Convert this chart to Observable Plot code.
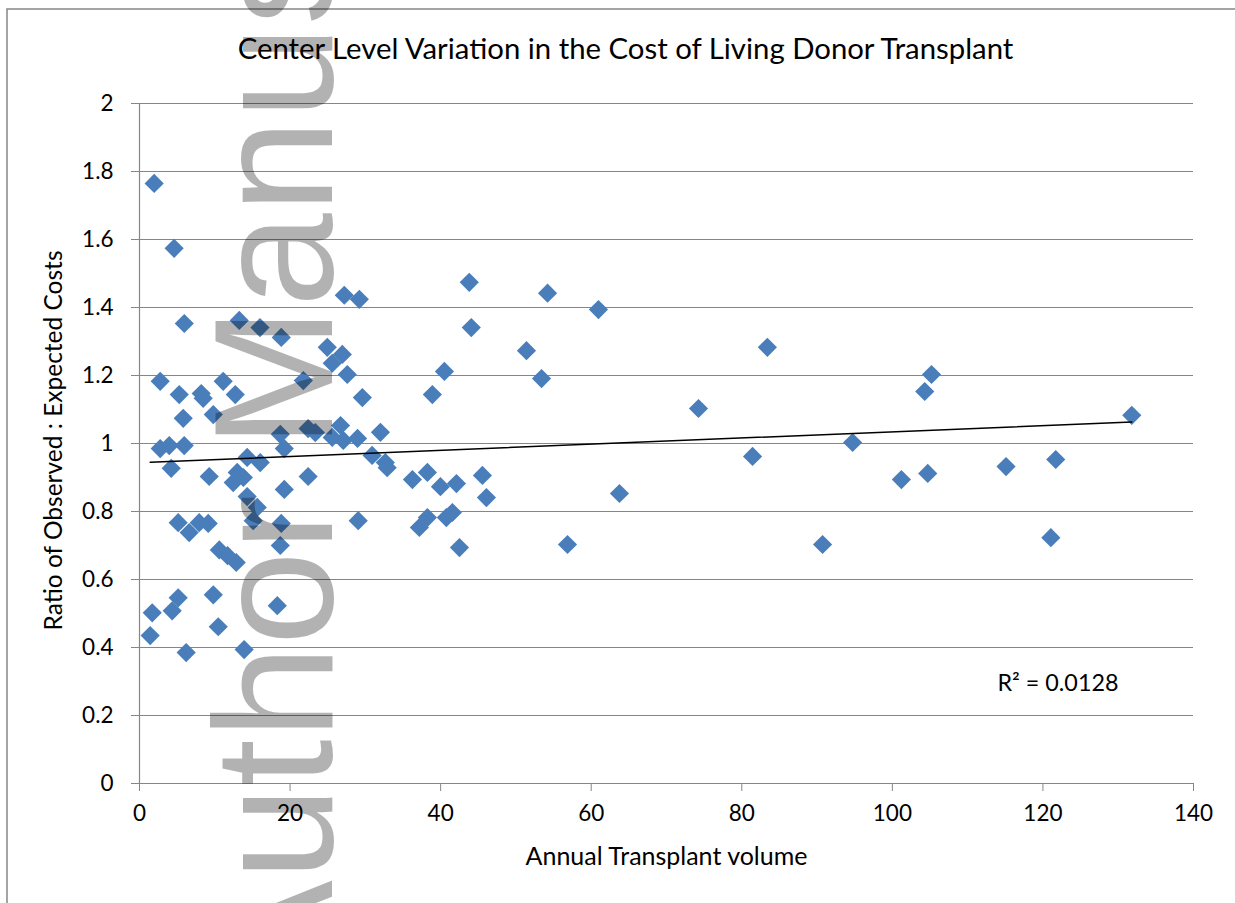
<!DOCTYPE html>
<html>
<head>
<meta charset="utf-8">
<script src="https://cdn.jsdelivr.net/npm/d3@7"></script>
<script src="https://cdn.jsdelivr.net/npm/@observablehq/plot@0.6"></script>
<style>
  html, body { margin: 0; padding: 0; background: #fff; overflow: hidden; }
  #chart svg { display: block; overflow: hidden !important; }
</style>
</head>
<body>
<div id="chart"></div>
<script>
// ---- data ----
const volume = [1.95, 4.6, 5.95, 13.25, 16.0, 18.83, 27.2, 29.2, 24.94, 26.94, 25.6, 27.6, 21.76, 2.75, 5.28, 8.2, 8.46, 11.12, 12.72, 29.6, 5.81, 9.8, 2.75, 3.95, 5.94, 4.21, 9.26, 14.3, 16.04, 12.98, 13.8, 12.45, 18.7, 19.23, 22.4, 23.35, 26.7, 25.6, 27.07, 28.96, 32.0, 30.9, 32.65, 32.9, 22.4, 19.23, 14.3, 15.64, 15.1, 18.83, 5.14, 6.6, 7.93, 9.13, 10.6, 11.7, 12.85, 18.7, 5.14, 4.34, 1.69, 9.8, 18.3, 1.42, 10.46, 6.2, 13.9, 29.05, 43.8, 44.07, 54.2, 40.5, 38.9, 51.4, 53.4, 36.25, 38.24, 39.97, 42.1, 45.55, 46.08, 38.24, 37.17, 40.76, 41.56, 42.5, 56.85, 60.96, 63.75, 74.25, 81.43, 83.4, 90.73, 94.72, 101.2, 104.3, 104.7, 105.2, 115.1, 121.05, 121.7, 131.8];
const ratio = [1.765, 1.574, 1.353, 1.362, 1.341, 1.312, 1.436, 1.424, 1.283, 1.262, 1.236, 1.203, 1.185, 1.183, 1.144, 1.147, 1.133, 1.183, 1.144, 1.135, 1.074, 1.085, 0.985, 0.994, 0.994, 0.927, 0.903, 0.959, 0.944, 0.915, 0.900, 0.885, 1.027, 0.985, 1.044, 1.032, 1.053, 1.018, 1.009, 1.015, 1.033, 0.965, 0.944, 0.929, 0.903, 0.865, 0.844, 0.812, 0.773, 0.765, 0.767, 0.738, 0.767, 0.765, 0.687, 0.670, 0.650, 0.700, 0.546, 0.508, 0.502, 0.555, 0.523, 0.435, 0.461, 0.385, 0.394, 0.773, 1.474, 1.341, 1.442, 1.212, 1.144, 1.273, 1.191, 0.894, 0.915, 0.873, 0.882, 0.906, 0.841, 0.782, 0.753, 0.782, 0.797, 0.694, 0.703, 1.394, 0.853, 1.103, 0.962, 1.283, 0.703, 1.003, 0.894, 1.153, 0.912, 1.203, 0.932, 0.723, 0.953, 1.083];
const xTicks = [0, 20, 40, 60, 80, 100, 120, 140];
const yTicks = [0, 0.2, 0.4, 0.6, 0.8, 1, 1.2, 1.4, 1.6, 1.8, 2];
const titleText = "Center Level Variation in the Cost of Living Donor Transplant";
const xLabel = "Annual Transplant volume";
const yLabel = "Ratio of Observed : Expected Costs";
const r2Label = "R\u00b2 = 0.0128";
const watermark = "Author Manuscript";

const points = volume.map((v, i) => ({volume: v, ratio: ratio[i]}));

const diamond = {
  draw(ctx, size) {
    const h = Math.sqrt(size / Math.PI);
    ctx.moveTo(0, -h); ctx.lineTo(h, 0); ctx.lineTo(0, h); ctx.lineTo(-h, 0); ctx.closePath();
  }
};

const grid = "#868686";
const FONT = "Lato, 'Open Sans', sans-serif";

const plot = Plot.plot({
  width: 1235,
  height: 903,
  marginLeft: 139,
  marginRight: 42,
  marginTop: 103,
  marginBottom: 120,
  style: {fontFamily: FONT, background: "#fff", color: "#000"},
  x: {domain: [0, 140], axis: null},
  y: {domain: [0, 2], axis: null},
  marks: [
    Plot.ruleY(yTicks, {stroke: grid, strokeWidth: 1.2}),
    Plot.ruleX([0], {stroke: grid, strokeWidth: 1.2}),
    Plot.axisX(xTicks, {anchor: "bottom", tickSize: 8, tickPadding: 14, fontSize: 22.5, color: "#000", stroke: grid, label: null, tickFormat: d => String(d)}),
    Plot.axisY(yTicks, {anchor: "left", tickSize: 8, tickPadding: 18, fontSize: 22.5, color: "#000", stroke: grid, label: null, tickFormat: d => String(+d.toFixed(1))}),
    Plot.dot(points, {x: "volume", y: "ratio", symbol: diamond, r: 9.6, fill: "#4A7EBB", stroke: "none"}),
    Plot.linearRegressionY(points, {x: "volume", y: "ratio", stroke: "#000", strokeWidth: 1.5, ci: 0}),
    Plot.text([titleText], {frameAnchor: "top", dx: -41, dy: -45, textAnchor: "middle", lineAnchor: "bottom", fontSize: 28, fill: "#000"}),
    Plot.text([xLabel], {frameAnchor: "bottom", dy: 81, textAnchor: "middle", lineAnchor: "bottom", fontSize: 22.5, fill: "#000"}),
    Plot.text([yLabel], {frameAnchor: "left", dx: -78, dy: -3, rotate: -90, textAnchor: "middle", lineAnchor: "bottom", fontSize: 22.5, fill: "#000"}),
    Plot.text([r2Label], {frameAnchor: "bottom-right", dx: -196, dy: -93, textAnchor: "start", lineAnchor: "bottom", fontSize: 22.5, fill: "#000"})
  ]
});

document.getElementById("chart").appendChild(plot);

// fit text lengths to the reference widths
const targets = new Map([[titleText, 776], [xLabel, 282], [yLabel, 380], [r2Label, 121]]);
d3.select(plot).selectAll("text").each(function() {
  const t = this.textContent;
  if (targets.has(t)) {
    const w = this.getBBox().width;
    const fs = parseFloat(getComputedStyle(this).fontSize);
    if (w > 0) this.setAttribute("font-size", (fs * targets.get(t) / w).toFixed(2));
  }
});

// chart area border (left and top edges only are visible) and watermark overlay
const svg = d3.select(plot);
svg.insert("path", ":first-child")
  .attr("d", "M7,910V9H1240")
  .attr("fill", "none").attr("stroke", grid).attr("stroke-width", 1.5);
svg.append("text")
  .attr("transform", "translate(332,993) rotate(-90)")
  .attr("font-family", "'Liberation Sans', Arial, sans-serif")
  .attr("font-size", 169)
  .attr("text-anchor", "start")
  .attr("fill", "#000")
  .attr("fill-opacity", 0.3)
  .text(watermark);
</script>
</body>
</html>
